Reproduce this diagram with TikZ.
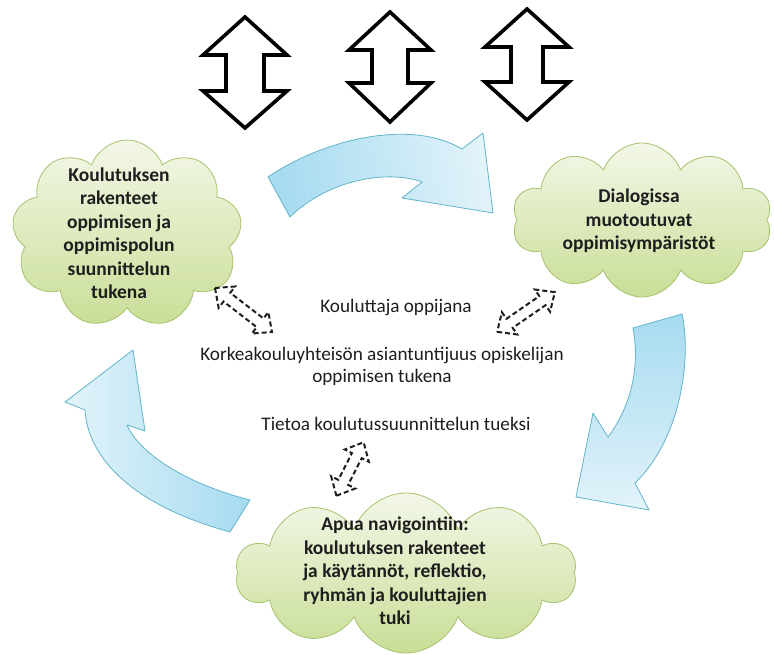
\documentclass[tikz,border=0pt]{standalone}
\usepackage{fontspec}
\setmainfont{Carlito}
\usetikzlibrary{shapes.symbols}

\definecolor{cloudtop}{HTML}{F3F7E8}
\definecolor{cloudbot}{HTML}{C9DE96}
\definecolor{cloudline}{HTML}{A5C36B}
\definecolor{flowdark}{HTML}{A6DBF0}
\definecolor{flowlight}{HTML}{E2F3FA}
\definecolor{flowline}{HTML}{62B4CA}
\definecolor{inktext}{HTML}{1E1E1E}

\tikzset{
  puff/.style={cloud, cloud ignores aspect, draw=cloudline, line width=0.8pt,
    top color=cloudtop, bottom color=cloudbot, inner sep=0pt, cloud puff arc=140},
  cloudtext/.style={font=\bfseries\fontsize{19.5}{23.5}\selectfont, align=center, text=inktext},
  plaintext/.style={font=\fontsize{19.2}{22}\selectfont, align=center, text=inktext},
  flow/.style={draw=flowline, line width=0.8pt, line join=round},
  blockarrow/.style={draw=black, fill=white, line width=3.6pt, line join=miter},
  dasharrow/.style={draw=inktext, line width=2pt, dash pattern=on 5pt off 3pt, line join=miter}
}

% vertical double-headed block arrow: centre x, top tip y, upper head base y,
% lower head base y, bottom tip y, head half width, shaft half width
\newcommand{\updownblock}[7]{%
  \draw[blockarrow] (#1,#2) -- (#1+#6,#3) -- (#1+#7,#3) -- (#1+#7,#4) -- (#1+#6,#4)
    -- (#1,#5) -- (#1-#6,#4) -- (#1-#7,#4) -- (#1-#7,#3) -- (#1-#6,#3) -- cycle;}

% dashed double-headed arrow: centre, angle, half length
\newcommand{\dashtwoway}[4]{%
  \begin{scope}[shift={(#1,#2)}, rotate=#3]
    \draw[dasharrow] (-#4,0) -- (-#4+15,13.5) -- (-#4+15,5.5) -- (#4-15,5.5) -- (#4-15,13.5)
      -- (#4,0) -- (#4-15,-13.5) -- (#4-15,-5.5) -- (-#4+15,-5.5) -- (-#4+15,-13.5) -- cycle;
  \end{scope}}

\begin{document}
\begin{tikzpicture}[x=1pt, y=-1pt]
  \useasboundingbox (0,0) rectangle (774,655);

  % exchange arrows along the top edge
  \updownblock{245}{17}{55}{91}{128}{42}{19}
  \updownblock{390}{12}{50}{83}{122}{41}{18}
  \updownblock{527}{9}{47}{82}{120}{42}{16}

  % cycle arrows
  \path[flow, left color=flowdark, right color=flowlight, shading angle=100]
    (268,177) .. controls (322,140) and (410,118) .. (462,149) -- (483,133)
    -- (493,213) -- (402,198) -- (422,182)
    .. controls (390,170) and (330,178) .. (290,217) -- cycle;
  \path[flow, top color=flowdark, bottom color=flowlight]
    (633,328) -- (682,314) .. controls (692,360) and (680,440) .. (635,483)
    -- (649,510) -- (576,497) -- (593,413) -- (608,437)
    .. controls (632,405) and (640,365) .. (633,328) -- cycle;
  \path[flow, left color=flowlight, right color=flowdark]
    (250,500) -- (230,532) .. controls (132,505) and (88,458) .. (85,410)
    -- (65,402) -- (133,350) -- (145,431) -- (127,425)
    .. controls (140,455) and (190,485) .. (250,500) -- cycle;

  % clouds
  \node[puff, cloud puffs=9, minimum width=230pt, minimum height=188pt] (left) at (127,234) {};
  \node[puff, cloud puffs=10, minimum width=260pt, minimum height=154pt] (right) at (642,220) {};
  \node[puff, cloud puffs=10, minimum width=340pt, minimum height=160pt] (bottom) at (406,573) {};

  \node[cloudtext] (lefttext) at (119,233) {Koulutuksen\\rakenteet\\oppimisen ja\\oppimispolun\\suunnittelun\\tukena};
  \node[cloudtext] (righttext) at (639,221) {Dialogissa\\muotoutuvat\\oppimisympäristöt};
  \node[cloudtext] (bottomtext) at (395,571) {Apua navigointiin:\\koulutuksen rakenteet\\ja käytännöt, reflektio,\\ryhmän ja kouluttajien\\tuki};

  % centre texts
  \node[plaintext] (trainer) at (396,307) {Kouluttaja oppijana};
  \node[plaintext] (expertise) at (382,366) {Korkeakouluyhteisön asiantuntijuus opiskelijan\\oppimisen tukena};
  \node[plaintext] (planning) at (396,424) {Tietoa koulutussuunnittelun tueksi};

  % dashed two-way arrows
  \dashtwoway{243.5}{310}{-37.7}{36}
  \dashtwoway{526}{312}{34.6}{35}
  \dashtwoway{350}{469}{63}{30}
\end{tikzpicture}
\end{document}
